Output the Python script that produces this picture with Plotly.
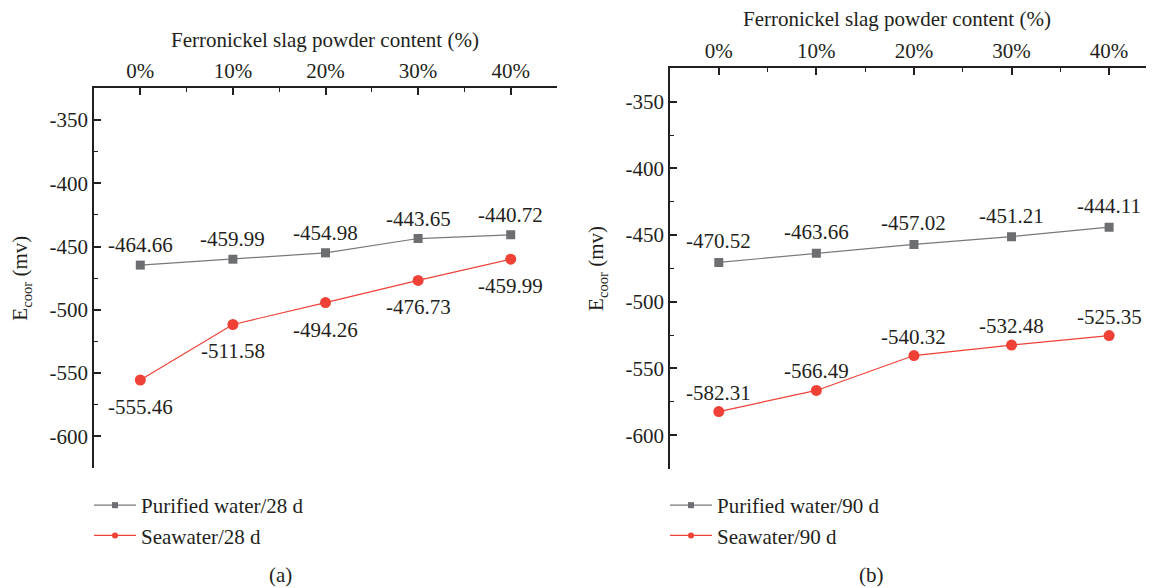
import plotly.graph_objects as go

# the page body adds an 8px margin, so figure coords = screen coords - 8
OFF = 8
W, H = 1146, 580

categories = ["0%", "10%", "20%", "30%", "40%"]
x_pos = [0, 1, 2, 3, 4]
y_ticks = [-600, -550, -500, -450, -400, -350]
y_ticktext = ["-600", "-550", "-500", "-450", "-400", "-350"]

pw28 = [-464.66, -459.99, -454.98, -443.65, -440.72]
sw28 = [-555.46, -511.58, -494.26, -476.73, -459.99]
pw90 = [-470.52, -463.66, -457.02, -451.21, -444.11]
sw90 = [-582.31, -566.49, -540.32, -532.48, -525.35]

labels_left = ["Purified water/28 d", "Seawater/28 d"]
labels_right = ["Purified water/90 d", "Seawater/90 d"]
x_title = "Ferronickel slag powder content (%)"
y_title = "E<sub>coor</sub> (mv)"

GRAY = "#6d6e71"
GRAYL = "#77787b"
RED = "#ef4136"
AX = "#231f20"
FONT = "Liberation Serif"
FS = 21


def px(x):
    return (x - OFF) / W


def py(y):
    return 1 - (y - OFF) / H


fig = go.Figure()

for xa, ya, pw, sw in [("x", "y", pw28, sw28), ("x2", "y2", pw90, sw90)]:
    fig.add_trace(go.Scatter(x=x_pos, y=pw, mode="lines+markers", xaxis=xa, yaxis=ya,
                             line=dict(color=GRAYL, width=1.2),
                             marker=dict(symbol="square", size=9, color=GRAY),
                             showlegend=False))
    fig.add_trace(go.Scatter(x=x_pos, y=sw, mode="lines+markers", xaxis=xa, yaxis=ya,
                             line=dict(color=RED, width=1.2),
                             marker=dict(symbol="circle", size=11, color=RED),
                             showlegend=False))

for lg, names in [("legend", labels_left), ("legend2", labels_right)]:
    fig.add_trace(go.Scatter(x=[None], y=[None], mode="lines+markers", name=names[0],
                             legend=lg, line=dict(color=GRAYL, width=1.2),
                             marker=dict(symbol="square", size=6, color=GRAY)))
    fig.add_trace(go.Scatter(x=[None], y=[None], mode="lines+markers", name=names[1],
                             legend=lg, line=dict(color=RED, width=1.2),
                             marker=dict(symbol="circle", size=6, color=RED)))

annotations = []
for xr, yr, vals, shift in [("x", "y", pw28, 20), ("x", "y", sw28, -27),
                            ("x2", "y2", pw90, 21), ("x2", "y2", sw90, 19)]:
    for xv, v in zip(x_pos, vals):
        annotations.append(dict(x=xv, y=v, xref=xr, yref=yr, text=f"{v:.2f}",
                                showarrow=False, yshift=shift,
                                font=dict(family=FONT, size=FS, color=AX)))

for (x, y, t) in [(325, 40, x_title), (897, 19, x_title), (280, 575, "(a)"), (871, 575, "(b)")]:
    annotations.append(dict(x=px(x), y=py(y), xref="paper", yref="paper", text=t,
                            xanchor="center", yanchor="middle", showarrow=False,
                            font=dict(family=FONT, size=FS, color=AX)))

xcommon = dict(side="top", tickmode="array", tickvals=x_pos, ticktext=categories,
               showline=True, linecolor=AX, linewidth=1.5, ticks="inside", ticklen=7,
               tickwidth=1.5, tickcolor=AX, showgrid=False, zeroline=False,
               minor=dict(dtick=0.5, tick0=0.5, ticks="inside", ticklen=4, tickwidth=1.2,
                          tickcolor=AX, showgrid=False),
               tickfont=dict(family=FONT, size=FS, color=AX))
ycommon = dict(range=[-625, -325], tickmode="array", tickvals=y_ticks, ticktext=y_ticktext,
               showline=True, linecolor=AX, linewidth=1.5, ticks="inside", ticklen=7,
               tickwidth=1.5, tickcolor=AX, showgrid=False, zeroline=False,
               minor=dict(tickvals=[-625, -575, -525, -475, -425, -375, -325], ticks="inside",
                          ticklen=4, tickwidth=1.2, tickcolor=AX, showgrid=False),
               tickfont=dict(family=FONT, size=FS, color=AX),
               title=dict(text=y_title, font=dict(family=FONT, size=FS, color=AX), standoff=16))

legend_common = dict(xanchor="left", yanchor="top",
                     font=dict(family=FONT, size=FS, color=AX), bgcolor="rgba(0,0,0,0)",
                     itemwidth=42, tracegroupgap=0)

fig.update_layout(
    width=W, height=H,
    margin=dict(l=0, r=0, t=0, b=0),
    paper_bgcolor="white", plot_bgcolor="white",
    font=dict(family=FONT, size=FS, color=AX),
    xaxis=dict(domain=[px(94), px(557)], range=[-0.5, 4.5], anchor="y", **xcommon),
    yaxis=dict(domain=[py(468), py(88.4)], anchor="x", **ycommon),
    xaxis2=dict(domain=[px(670), 1.0], range=[-0.5, 4.46], anchor="y2", **xcommon),
    yaxis2=dict(domain=[py(468.5), py(68.3)], anchor="x2", **ycommon),
    legend=dict(x=px(89), y=py(485), **legend_common),
    legend2=dict(x=px(665), y=py(485), **legend_common),
    annotations=annotations,
    showlegend=True,
)

fig.write_html("out.html")
